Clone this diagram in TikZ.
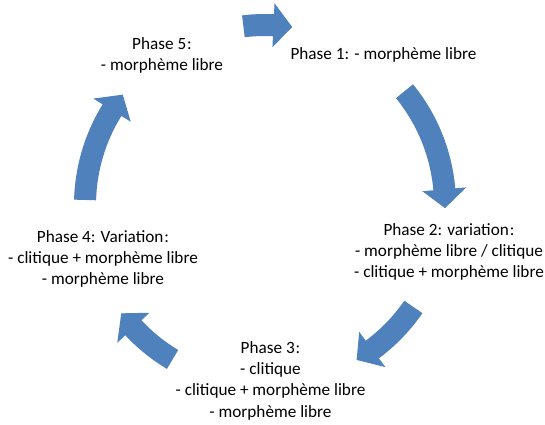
\documentclass[tikz,border=0pt]{standalone}
\usepackage{fontspec}
\setmainfont{Carlito}
\definecolor{arrowblue}{RGB}{79,129,189}
\tikzset{
  phase/.style={align=center, font=\fontsize{17.2}{21.3}\selectfont, inner sep=0pt, text=black},
  arrowfill/.style={fill=arrowblue}
}
% curved block arrow around the centre, running clockwise from #1 to the tip at #2
\newcommand\cyclearrow[2]{%
  \pgfmathsetmacro\headbase{#2+6}%
  \fill[arrowfill] (#1:191) arc[start angle=#1, end angle=\headbase, radius=191]
    -- (\headbase:202) -- (#2:180) -- (\headbase:158) -- (\headbase:169)
    arc[start angle=\headbase, end angle=#1, radius=169] -- cycle;}
\begin{document}
\begin{tikzpicture}[x=1pt, y=1pt]
  \useasboundingbox[fill=white] (0,0) rectangle (545,424);
  \begin{scope}[shift={(265,219)}]
    \cyclearrow{96.9}{81.3}
    \cyclearrow{39.2}{-1}
    \cyclearrow{-34.5}{-59.4}
    \cyclearrow{-120.9}{-143}
    \cyclearrow{178.4}{142.2}
  \end{scope}
  \node[phase] (p1) at (383.5,369) {Phase 1: - morphème libre};
  \node[phase] (p2) at (449,172) {Phase 2: variation\kern1pt:\\- morphème libre / clitique\\- clitique + morphème libre};
  \node[phase] (p3) at (270.5,43.5) {Phase 3\kern1pt:\\- clitique\\- clitique + morphème libre\\- morphème libre};
  \node[phase] (p4) at (103,165) {Phase 4: Variation\kern1pt:\\- clitique + morphème libre\\- morphème libre};
  \node[phase] (p5) at (162,368.5) {Phase 5\kern1pt:\\- morphème libre};
\end{tikzpicture}
\end{document}
